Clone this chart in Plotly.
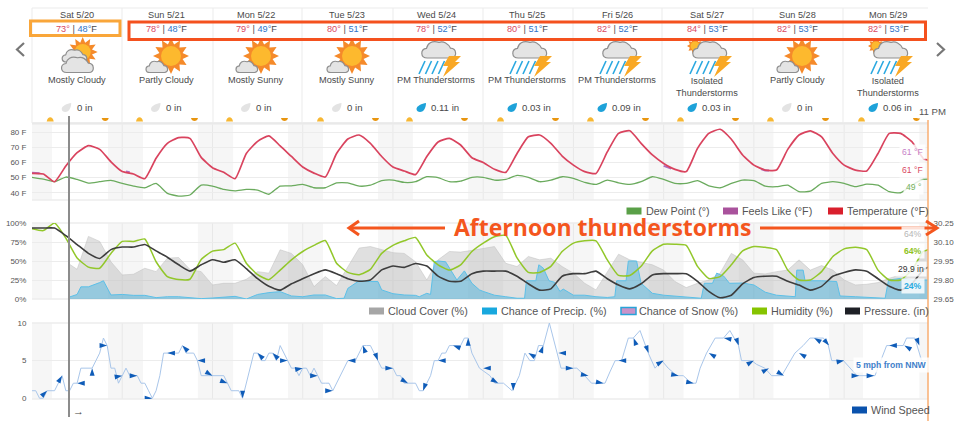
import math
import plotly.graph_objects as go

days = ["Sat 5/20","Sun 5/21","Mon 5/22","Tue 5/23","Wed 5/24","Thu 5/25","Fri 5/26","Sat 5/27","Sun 5/28","Mon 5/29"]
highs = [73,78,79,80,78,80,82,84,82,82]
lows = [48,48,49,51,52,51,52,53,53,53]
conditions = ["Mostly Cloudy","Partly Cloudy","Mostly Sunny","Mostly Sunny","PM Thunderstorms","PM Thunderstorms","PM Thunderstorms","Isolated<br>Thunderstorms","Partly Cloudy","Isolated<br>Thunderstorms"]
precip_totals = ["0 in","0 in","0 in","0 in","0.11 in","0.03 in","0.09 in","0.03 in","0 in","0.06 in"]
icons = ["cloudy","sun","sun","sun","storm","storm","storm","isostorm","sun","isostorm"]

hours3 = list(range(0,238,3))+[238.3]
temperature = [52.8,52.4,47.3,57.7,66.5,71.2,68.7,60.5,54,52.4,49.3,62.8,72.7,76.5,76,63.4,56.6,53.5,49.3,66,74,77.6,71,64,57,53,50.4,66,75.6,78.2,72.7,64,57,54.4,52,64,73.6,76,71.6,63.2,
60,55.5,53.5,66,77,78.2,72.7,64.3,58.3,54,52.8,67,79.3,81,72.7,65,59.4,55.5,54,69.4,79.3,82,75.4,65,58.3,55,55,68.7,78.2,81,77,66,58.3,55,54.4,66,79.3,79.3,73.8,62.8,61.6]
dew_point = [50.2,49,47.3,50.4,48.8,46.4,47.3,48.2,46.2,44.4,43.3,46.2,39.6,37.8,38.5,45,44.4,42.2,41.3,42.2,41.8,39,44.4,44.6,45.5,43.3,43.3,46.6,46.6,44.4,45,48,48.4,46.8,47.3,50.6,50,47.3,47.7,50.2,
50.2,48.4,48.8,51.5,50.2,47.3,48.4,50.6,49.5,46.8,45.5,48.4,46.6,45.5,47.3,50.6,48.8,46.2,46.2,48,44.6,43.3,46.2,48.4,48,44.4,44,45,40.7,41,46.2,47.3,46.2,44,45.7,45,40.7,40,45,48.8,49]
feels_hours = [0,1,2,3,25,26,27,168,169,170,171,194,195,196,197]
feels_like = [53.3,53.3,52.9,None,54,53.6,None,57.8,56.8,56,None,55.6,54.8,54.8,None]

humidity = [92.5,90,100,80,54,42,40.5,60,75.8,75.8,79,49,29.5,25.5,26,52,63,65,73.5,47,32,25.5,38,51.5,62.5,70.5,77,47,35,32,39,60,70.5,76.6,81,58,45,38,45,62.5,
73.5,82,83.7,54,35,35,43,62.5,73.5,76.6,76.6,51.5,31,31,43,63.4,72,72,70.5,43,27,29.5,45,63.4,69,68,65,38,25,25,36,56,66,68,65,38,25,25,38,62.5,65]
pressure_in = [30.21,30.21,30.21,30.15,30.08,30.01,29.97,30.04,30.06,30.06,30.08,30.03,29.98,29.92,29.87,29.92,29.96,29.94,29.96,29.89,29.81,29.75,29.72,29.77,29.81,29.85,29.88,29.85,29.81,29.79,29.80,29.88,29.91,29.90,29.93,29.91,29.83,29.79,29.79,29.85,
29.87,29.87,29.87,29.83,29.77,29.72,29.73,29.83,29.85,29.85,29.87,29.81,29.76,29.73,29.77,29.84,29.85,29.85,29.85,29.79,29.71,29.66,29.68,29.77,29.82,29.83,29.83,29.79,29.76,29.72,29.75,29.83,29.86,29.88,29.87,29.81,29.75,29.72,29.77,29.88,29.90]
cloud_hours = [9.6]+list(range(12,238,3))+[238.3]
cloud_cover = [47,39,82.4,75.8,49,31.7,32.6,40.5,36,53.7,54.6,39,36,18.5,20.7,20.7,26,36,34,64.8,60,45,16.3,29.5,17.6,42.7,67,69,64.8,61,60,49,25,51.5,62.5,61.7,64,
67,69,47,42.7,56,51.5,53.7,42.7,34,20.7,12,36,59,51.5,48,45,38,23,15,20.7,25,34,60,51.5,34,33,36,38,51.5,38,44,38,25,18.5,19.4,21.6,27.3,31.7,38,60,65]
precip_hours = [9.6,12,13,15,18,19,21,24,27,30,33,36,39,42,45,48,51,54,57,60,63,66,69,72,75,78,81,83,84,87,90,92,93,96,99,102,103,105,106,107,108,110,113,115,117,119,120,123,126,129,131,131.5,134,134.8,136,137.5,139,140.4,141.3,144,147,150,153,155,155.5,158,158.6,160.8,162,165,168,171,174,178,178.8,181,182.1,184,185.5,189,192,194,195,198,201,203,203.4,205.1,205.6,210,214,214.9,219,222,225,226.9,227.8,231,234,238.3]
precip_chance = [2,6,16,16,21.6,24,5.3,6,4.8,4.8,1.8,3,3,2,0.5,1.3,2,3.5,0,6,8.4,9.7,4,3,5.3,5.3,0.5,1,14,24,23,23,12,7,5.3,4.8,3,7.5,6,49,50,49,25,37,20.7,12,10,5,3,1,1,24,24,45,40.5,24,22,10,13,5,5,3,2,3,24,24,50,50,20.7,7.5,5,4,3,1,20.7,20.7,34,30,20.7,21,18.5,12,9,5,4,3,38,38,24,24,23,4,3,2,1,1,25,27,25,25]

wind_hours = list(range(0,120))+[121.8,123.1,125.4,127.7,129.6,131.1,132.4,133.6,134.7,136,137.6,139.7,140.7,144.9,147,148.8,152.4,153.7,155.1,156.8,158.6,159.9,161.7,163.9,165.7,167.5,169.2,171.5,173.2,175.4,176.6,177.7,179.4,181.7,183.9,185.6,187.9,188.7,191.4,192.7,194.9,196.7,199.4,202.9,205.1,206.9,210.5,211.8,212.7,215.8,217.6,219.4,224.2,227.3,231.7,232.6,234.8,236.6,238.3]
wind_speed = [1,1,0,0,1,1,1,2,3,1,1,2,2,4,4,4,4,5,6,8,7,4,4,2,3,4,3,3,3,2,2,1,0,1,3,6,6,6,6,6,7,6,6,6,5,3,3,3,3,3,3,3,2,1,1,1,0,2,4,6,6,5,5,6,6,5,7,6,5,4,4,3,4,4,3,4,3,2,2,2,1,2,3,4,5,5,5,6,7,7,7,6,5,4,4,4,4,3,3,2,2,2,2,1,1,2,3,5,5,6,6,7,7,7,7,8,8,6,5,4,
3,2,2,1,3,6,5,5,7,7,10,6,4,4,3,2,2,3.5,5,5,8,8,9,6,4,5,4,3,3,2,2,4,6,8,8,9,7,5,5,4.5,4,3,3,6,7,8,8,7,5,5,4,3,3,7,7,8,8,5,5]
arrow_hours = list(range(0,237,4))
arrow_speed = [1,1,3,2,4,7,3,3,0,6,7,5,3,2,0,6,6,5,4,3,1,5,7,5,4,2,1,5,7,8,4,2,1,6,7,6,4,3,2,5,8,6,5,3,2,6,8,7,5,4,3,6,8,7,5,3,3,7,7,7]
arrow_dir = [135,45,30,270,0,90,80,90,90,270,315,270,120,110,180,315,315,90,80,90,90,270,340,160,90,120,200,270,290,0,270,120,180,300,20,270,90,100,100,270,340,160,60,100,100,300,280,160,60,60,120,300,300,140,80,90,90,270,300,160]

night_bands = [(0,5.3),(20.2,29.5),(44.1,53.5),(68.1,77.4),(92,101.3),(116,125.3),(140,149.4),(164,173.3),(188,197.2),(212,221),(236,238.3)]
day_lines = [24,48,72,96,120,144,168,192,216]
for a,b in [(hours3,temperature),(hours3,dew_point),(hours3,humidity),(hours3,pressure_in),(cloud_hours,cloud_cover),(precip_hours,precip_chance),(wind_hours,wind_speed),(arrow_hours,arrow_speed),(arrow_hours,arrow_dir),(feels_hours,feels_like)]:
    assert len(a)==len(b),(len(a),len(b))

W,H=960,421
def P(x,y): return f"{x/W:.5f},{1-y/H:.5f}"
def path(pts,close=True): return "M"+" L".join(P(*p) for p in pts)+(" Z" if close else "")
shapes=[]; ann=[]
def add_path(d,fill=None,line=None,w=1,layer="above"):
    shapes.append(dict(type="path",path=d,xref="paper",yref="paper",fillcolor=fill or "rgba(0,0,0,0)",line=dict(color=line or "rgba(0,0,0,0)",width=w),layer=layer))
def add_line(x0,y0,x1,y1,c,w=1,layer="above"):
    shapes.append(dict(type="line",xref="paper",yref="paper",x0=x0/W,x1=x1/W,y0=1-y0/H,y1=1-y1/H,line=dict(color=c,width=w),layer=layer))
def add_rect(x0,y0,x1,y1,fill=None,line=None,w=1):
    shapes.append(dict(type="rect",xref="paper",yref="paper",x0=x0/W,x1=x1/W,y0=1-y0/H,y1=1-y1/H,fillcolor=fill or "rgba(0,0,0,0)",line=dict(color=line or "rgba(0,0,0,0)",width=w)))
def add_circle(cx,cy,r,fill,line=None,w=1):
    shapes.append(dict(type="circle",xref="paper",yref="paper",x0=(cx-r)/W,x1=(cx+r)/W,y0=1-(cy+r)/H,y1=1-(cy-r)/H,fillcolor=fill,line=dict(color=line or "rgba(0,0,0,0)",width=w)))
def text(x,y,s,size=9.2,color="#4a4a4a",anchor="center",**kw):
    ann.append(dict(xref="paper",yref="paper",x=x/W,y=1-y/H,text=s,showarrow=False,xanchor=anchor,yanchor="middle",font=dict(size=size,color=color,family=kw.pop("family","Liberation Sans, Arial")),**kw))

def sun(cx,cy,R,r,n=12):
    pts=[]
    for i in range(2*n):
        a=math.pi*i/n; rr=R if i%2==0 else r*1.2
        pts.append((cx+rr*math.cos(a),cy+rr*math.sin(a)))
    add_path(path(pts),fill="#f58a2a")
    add_circle(cx,cy,r,"#fdb92e")
def cloud(cx,cy,w,h):
    l=cx-w/2; rr=cx+w/2; t=cy-h/2; b=cy+h/2
    d=("M"+P(l+h*.3,b)+" C"+P(l-h*.15,b)+" "+P(l-h*.15,cy-h*.05)+" "+P(l+h*.25,cy-h*.1)
       +" C"+P(l+h*.3,t+h*.1)+" "+P(cx-w*.22,t-h*.12)+" "+P(cx,t+h*.02)
       +" C"+P(cx+w*.14,t-h*.08)+" "+P(rr-h*.45,t+h*.1)+" "+P(rr-h*.32,cy-h*.12)
       +" C"+P(rr+h*.1,cy-h*.1)+" "+P(rr+h*.12,b)+" "+P(rr-h*.28,b)+" Z")
    add_path(d,fill="#e4e4e4",line="#8f8f8f",w=1.2)
def storm(cx,cy,small_sun=False):
    if small_sun: sun(cx-12,cy-11,8,4.5,10)
    cloud(cx+3,cy-7,33,16)
    for i in range(4):
        x=cx-14+i*6.5
        add_line(x+3,cy+4,x-3,cy+17,"#2aa8e0",1.6)
    bx=cx+10
    add_path(path([(bx+3,cy-1),(bx+15,cy-1),(bx+9,cy+5),(bx+14,cy+5),(bx-3,cy+20),(bx+2,cy+9),(bx-3,cy+9)]),fill="#f9a825")

# header
add_line(32,8,928,8,"#ebebeb"); add_line(32,123,928,123,"#e6e6e6",1.5); add_line(32,8,32,123,"#ebebeb")
centers=[76.7,166,256,347,436,527,617,707,797,888]
seps=[122,213,302,393,483,573,662,753,843]
for s in seps: add_line(s,8,s,123,"#ebebeb")
for i,c in enumerate(centers):
    text(c,14.7,days[i])
    text(c,29,f'<span style="color:#d9485f">{highs[i]}°</span> | <span style="color:#2f74c8">{lows[i]}°</span>F')
    ic=icons[i]
    if ic=="sun":
        sun(c+5,56,18,10); cloud(c-9,67,21,11)
    elif ic=="cloudy":
        sun(c+6,52,15,8); cloud(c-2,56,24,12); cloud(c+1,65,31,15)
    elif ic=="storm":
        storm(c,57)
    else:
        storm(c,57,True)
    text(c,80.5 if "<br>" not in conditions[i] else 87,conditions[i])
    amount=precip_totals[i]
    wet=amount!="0 in"
    tx=c+7.5 if not wet else c+9
    text(tx,107.5,amount,size=9.6)
    dx=tx-(18 if not wet else 24)
    add_path("M"+P(dx+5,103)+" C"+P(dx+1,103.5)+" "+P(dx-4.5,106)+" "+P(dx-4.5,109)+" C"+P(dx-4.5,112.5)+" "+P(dx+1,113)+" "+P(dx+3,110)+" C"+P(dx+4.5,108)+" "+P(dx+5,105)+" "+P(dx+5,103)+" Z",
             fill="#1ea2d9" if wet else "#e3e3e3")
    add_path("M"+P(c-30,121.5)+" C"+P(c-29,116)+" "+P(c-24,116)+" "+P(c-23,121.5)+" Z",fill="#f7b733")
    add_path("M"+P(c+25,118)+" L"+P(c+32,118)+" C"+P(c+31.5,122)+" "+P(c+25.5,122)+" "+P(c+25,118)+" Z",fill="#e8950f")
add_path(path([(24,43),(17,49.5),(24,56)],False),line="#777777",w=2.2)
add_path(path([(937,43),(944,49.5),(937,56)],False),line="#777777",w=2.2)
text(932,111,"11 PM",size=9.6,color="#555555",bgcolor="rgba(255,255,255,0.8)")
add_rect(30.5,21,120,35.5,line="#f9a63a",w=3)
add_rect(129,22,925.5,39.5,line="#f4511e",w=3)

# panel backgrounds
for yd in ["y","y2","y3"]:
    for a,b in night_bands:
        shapes.append(dict(type="rect",xref="x",yref=yd+" domain",x0=a,x1=b,y0=0,y1=1,fillcolor="#f6f6f6",line=dict(width=0),layer="below"))
    for d in day_lines:
        shapes.append(dict(type="line",xref="x",yref=yd+" domain",x0=d,x1=d,y0=0,y1=1,line=dict(color="#e8e8e8",width=1),layer="below"))
    for e in (0,1):
        shapes.append(dict(type="line",xref="paper",yref=yd+" domain",x0=32/W,x1=928/W,y0=e,y1=e,line=dict(color="#ececec",width=1.6),layer="below"))

# overlays
add_line(69,116,69,417,"#8c8c8c",2)
add_line(928,120,928,421,"#f9ae72",1.5)
text(78,410.5,"→",size=11,color="#444444")

for x,y,s,c,b in [(912,152,"61 °F","#c77fc7",False),(912,170,"61 °F","#d9485f",False),(913,187,"49 °","#76b25e",False),(913,234,"64%","#b5b5b5",False),(913,251,"64%","#8fc31f",True),(911,269,"29.9 in","#333333",False),(913,286,"24%","#28ace2",True),(891,365,"5 mph from NNW","#3f7fca",True)]:
    text(x,y,("<b>%s</b>"%s) if b else s,size=8.6,color=c,bgcolor="rgba(255,255,255,0.82)",borderpad=2)

# legends
for sx,tx,y,lab,col,bd in [(626.5,646,211,"Dew Point (°)","#5aa048",None),(723,742,211,"Feels Like (°F)","#a9529c",None),(828,847,211,"Temperature (°F)","#d91f2c",None),
    (369,388,311,"Cloud Cover (%)","#a6a6a6",None),(482,501,311,"Chance of Precip. (%)","#18a8de",None),(621,639,311,"Chance of Snow (%)","#c993c9","#28a3d8"),(752,771,311,"Humidity (%)","#86c400",None),(845,864,311,"Pressure. (in)","#1e2026",None),
    (852,871,410,"Wind Speed","#0a52ad",None)]:
    add_rect(sx,y-3.5,sx+15,y+3.5,fill=col,line=bd,w=1.5 if bd else 0)
    text(tx,y,lab,size=10.8,color="#555555",anchor="left",borderpad=0,borderwidth=0)

# headline + arrows
ORANGE="#f4561e"
text(602.5,227,"<b>Afternoon thunderstorms</b>",size=23,color=ORANGE,family="Open Sans")
add_line(350,228,445,228,ORANGE,3)
add_path(path([(359,221),(349,228),(359,235)],False),line=ORANGE,w=3)
add_line(760,228,935,228,ORANGE,3)
add_path(path([(926,221),(937,228),(926,235)],False),line=ORANGE,w=3)

fig=go.Figure()
sp=dict(shape="spline",smoothing=0.5)
fig.add_trace(go.Scatter(x=hours3,y=dew_point,name="Dew Point",mode="lines",line=dict(color="#6bab5e",width=1.3,**sp),xaxis="x",yaxis="y"))
fig.add_trace(go.Scatter(x=feels_hours,y=feels_like,name="Feels Like",mode="lines",line=dict(color="#b06cc0",width=2),yaxis="y",connectgaps=False))
fig.add_trace(go.Scatter(x=hours3,y=temperature,name="Temperature",mode="lines",line=dict(color="#d9435e",width=1.7,**sp),yaxis="y"))
fig.add_trace(go.Scatter(x=cloud_hours,y=cloud_cover,name="Cloud Cover",mode="lines",fill="tozeroy",fillcolor="rgba(170,170,170,0.36)",line=dict(color="rgba(190,190,190,0.6)",width=0.8),yaxis="y2"))
fig.add_trace(go.Scatter(x=precip_hours,y=precip_chance,name="Chance of Precip.",mode="lines",fill="tozeroy",fillcolor="rgba(70,175,220,0.48)",line=dict(color="#5cc0e8",width=1),yaxis="y2"))
fig.add_trace(go.Scatter(x=hours3,y=humidity,name="Humidity",mode="lines",line=dict(color="#92c72a",width=1.5,**sp),yaxis="y2"))
fig.add_trace(go.Scatter(x=hours3,y=pressure_in,name="Pressure",mode="lines",line=dict(color="#3d3d3d",width=1.6,**sp),yaxis="y4"))
fig.add_trace(go.Scatter(x=wind_hours,y=wind_speed,name="Wind Speed",mode="lines",line=dict(color="#a9c6ea",width=1),yaxis="y3"))
fig.add_trace(go.Scatter(x=arrow_hours,y=arrow_speed,name="Wind Dir",mode="markers",marker=dict(symbol="arrow",size=8,angle=arrow_dir,color="#0f5cb8",line=dict(width=0)),yaxis="y3"))

tick=dict(size=8,color="#555555",family="Liberation Sans, Arial")
def yax(top,bot,rng,vals,labels):
    return dict(domain=[1-bot/H,1-top/H],range=rng,tickvals=vals,ticktext=labels,tickfont=tick,showgrid=True,gridcolor="#ececec",gridwidth=1,zeroline=False,showline=False,ticks="outside",ticklen=3,tickcolor="rgba(0,0,0,0)",anchor="x",automargin=False)
fig.update_layout(width=W,height=H,margin=dict(l=0,r=0,t=0,b=0,autoexpand=False),paper_bgcolor="white",plot_bgcolor="white",showlegend=False,shapes=shapes,annotations=ann,
    xaxis=dict(domain=[32/W,928/W],range=[0,238.3],visible=False,anchor="y3",automargin=False),
    yaxis=yax(124,200,[35.2,85.5],[40,50,60,70,80],["40 F","50 F","60 F","70 F","80 F"]),
    yaxis2=yax(223,299,[0,100],[0,25,50,75,100],["0%","25%","50%","75%","100%"]),
    yaxis3=yax(323,399,[-0.1,10],[0,5,10],["0","5","10"]),
    yaxis4=dict(overlaying="y2",side="right",range=[29.65,30.25],tickvals=[29.65,29.80,29.95,30.10,30.25],ticktext=["29.65","29.80","29.95","30.10","30.25"],tickfont=tick,showgrid=False,zeroline=False,ticks="outside",ticklen=3,tickcolor="rgba(0,0,0,0)",anchor="x",automargin=False))
fig.write_html("out.html",config=dict(displayModeBar=False),post_script="document.body.style.margin='0';document.body.style.overflow='hidden';")
